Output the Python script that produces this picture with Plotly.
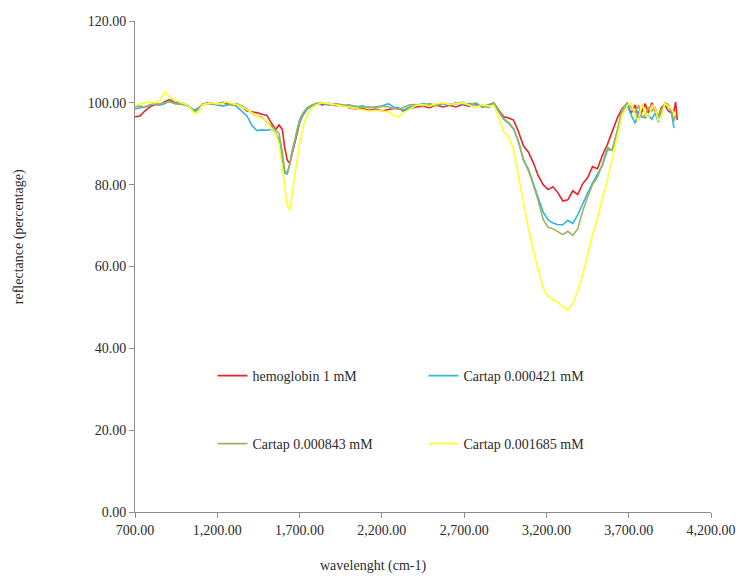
import plotly.graph_objects as go

# Wavenumber grid (cm-1)
wavenumber = [
    700, 730, 760, 790, 820, 850, 880, 910, 940, 970,
    1000, 1030, 1060, 1080, 1110, 1140, 1170, 1200, 1230, 1260,
    1290, 1320, 1350, 1380, 1410, 1440, 1470, 1500, 1530, 1555,
    1575, 1595, 1610, 1625, 1640, 1655, 1670, 1685, 1700, 1720,
    1745, 1770, 1800, 1840, 1880, 1920, 1960, 2000, 2040, 2080,
    2120, 2160, 2200, 2240, 2270, 2300, 2330, 2370, 2410, 2450,
    2490, 2530, 2570, 2610, 2650, 2690, 2730, 2770, 2810, 2850,
    2880, 2910, 2940, 2970, 3000, 3030, 3060, 3090, 3120, 3150,
    3180, 3210, 3240, 3270, 3300, 3330, 3360, 3390, 3420, 3450,
    3480, 3510, 3540, 3570, 3600, 3630, 3660, 3690, 3715, 3740,
    3760, 3780, 3800, 3820, 3840, 3860, 3880, 3900, 3920, 3940,
    3960, 3975, 3985, 3995,
]

hemoglobin_1mM = [
    96.6, 96.8, 98.0, 99.0, 99.6, 99.5, 100.3, 100.8, 100.2, 100.0,
    99.8, 99.0, 98.0, 98.5, 99.6, 100.0, 99.8, 99.5, 100.0, 99.8,
    99.5, 99.6, 99.0, 98.0, 97.8, 97.6, 97.2, 97.0, 95.0, 93.5,
    94.6, 93.5, 89.0, 86.0, 85.2, 87.5, 90.0, 92.5, 95.2, 97.0,
    98.5, 99.2, 99.8, 99.5, 99.9, 99.3, 99.5, 98.8, 98.5, 98.6,
    98.2, 98.5, 98.0, 98.4, 98.6, 98.8, 98.0, 98.6, 99.0, 99.2,
    98.8, 99.5, 99.0, 99.4, 99.0, 99.6, 99.2, 99.8, 99.0, 99.4,
    100.0, 98.2, 96.6, 96.3, 95.8, 93.0, 89.5, 88.0, 85.4, 82.2,
    80.0, 78.8, 79.5, 78.0, 76.0, 76.3, 78.5, 77.6, 80.2, 81.7,
    84.4, 83.9, 87.2, 89.8, 93.2, 96.2, 98.6, 99.8, 97.5, 99.5,
    96.0, 98.0, 99.8, 97.5, 100.0, 98.0, 96.5, 99.0, 99.5, 98.0,
    97.5, 98.0, 100.2, 95.8,
]

cartap_0000421 = [
    98.5, 98.8, 99.0, 99.3, 99.8, 99.5, 99.8, 100.5, 99.8, 99.8,
    99.5, 99.0, 98.2, 98.6, 99.5, 99.8, 99.9, 99.6, 99.2, 99.5,
    99.8, 99.0, 98.0, 96.8, 94.5, 93.2, 93.4, 93.3, 93.5, 92.5,
    91.0, 86.5, 82.8, 82.6, 85.0, 88.2, 90.5, 93.0, 95.3, 97.0,
    98.4, 99.2, 99.8, 99.8, 99.4, 99.7, 99.2, 99.5, 99.0, 99.3,
    98.8, 99.0, 99.2, 99.8, 99.0, 98.6, 98.2, 99.0, 99.4, 99.8,
    99.5, 99.3, 99.8, 99.5, 100.0, 99.6, 99.8, 99.5, 99.0, 99.6,
    99.8, 97.8, 96.0, 95.0, 93.6, 90.5, 86.2, 83.8, 80.3, 76.6,
    73.3, 71.4, 70.6, 70.2, 70.2, 71.3, 70.5, 72.6, 75.4, 77.9,
    80.4, 82.7, 84.7, 88.4, 88.6, 93.0, 97.8, 99.6, 97.0, 95.0,
    98.0, 96.5, 96.3, 97.0, 96.0, 97.5, 95.3, 98.0, 99.8, 99.5,
    97.5, 93.8, None, None,
]

cartap_0000843 = [
    99.0, 99.2, 99.0, 99.5, 99.8, 99.7, 100.0, 100.2, 99.9, 99.6,
    99.8, 99.2, 97.8, 98.2, 99.7, 99.8, 99.6, 99.8, 100.2, 100.0,
    99.6, 99.8, 99.2, 98.5, 97.5, 96.8, 96.5, 95.5, 94.3, 93.2,
    92.6, 88.0, 83.5, 82.8, 84.8, 88.0, 91.0, 93.5, 95.8, 97.5,
    98.8, 99.4, 99.8, 100.0, 99.6, 99.8, 99.5, 99.3, 99.2, 98.8,
    99.0, 98.8, 99.2, 99.0, 98.6, 98.4, 98.8, 99.5, 99.6, 99.2,
    99.8, 99.4, 100.0, 99.6, 99.7, 100.2, 99.4, 100.0, 99.2, 98.8,
    100.0, 97.8, 96.2, 95.2, 93.8, 90.6, 86.0, 83.5, 80.0, 76.2,
    71.5, 69.6, 69.2, 68.6, 67.8, 68.6, 67.6, 69.2, 73.5, 77.0,
    80.0, 81.8, 85.0, 89.2, 88.4, 93.0, 98.4, 100.0, 99.0, 97.5,
    99.5, 96.5, 97.0, 98.8, 98.0, 99.0, 96.2, 98.5, 100.0, 99.6,
    98.0, 95.5, 97.0, None,
]

cartap_0001685 = [
    99.3, 99.8, 100.0, 100.2, 100.0, 100.5, 102.6, 101.5, 100.5, 100.2,
    99.8, 99.0, 97.5, 97.6, 99.5, 99.8, 100.0, 99.7, 99.8, 100.3,
    99.8, 99.6, 99.0, 98.2, 97.6, 96.8, 96.2, 95.6, 93.5, 92.4,
    90.0, 84.0, 78.5, 75.0, 73.8, 77.5, 82.0, 86.0, 90.0, 94.0,
    97.0, 98.6, 99.5, 100.0, 99.8, 99.5, 99.2, 99.0, 98.6, 98.4,
    98.0, 98.2, 98.0, 97.8, 97.0, 96.5, 97.6, 98.6, 99.4, 99.6,
    99.2, 99.8, 100.0, 99.6, 99.8, 100.0, 99.5, 98.8, 99.6, 99.2,
    99.4, 96.5, 92.9, 91.8, 88.5, 82.0, 75.5, 69.4, 63.8, 59.0,
    54.7, 52.8, 51.8, 51.2, 50.0, 49.5, 51.0, 54.0, 58.0, 62.7,
    67.8, 71.6, 76.8, 81.0, 86.4, 92.0, 97.0, 99.3, 100.0, 96.5,
    95.8, 99.8, 97.5, 96.2, 99.5, 98.6, 95.6, 97.0, 99.8, 99.2,
    98.5, 97.5, 97.0, None,
]

series_names = ["hemoglobin 1 mM", "Cartap 0.000421 mM",
                "Cartap 0.000843 mM", "Cartap 0.001685 mM"]
series_values = [hemoglobin_1mM, cartap_0000421, cartap_0000843, cartap_0001685]
series_colors = ["#E8232B", "#2FB5E6", "#9BB45E", "#FFFF2E"]
legend_ids = ["legend", "legend2", "legend3", "legend4"]

y_ticks = [0, 20, 40, 60, 80, 100, 120]
x_ticks = [700, 1200, 1700, 2200, 2700, 3200, 3700, 4200]

FONT = "Liberation Serif, Times New Roman, serif"
TEXT = "#2b2b2b"
AXIS = "#8c8c8c"

fig = go.Figure()
for name, vals, col, leg in zip(series_names, series_values, series_colors, legend_ids):
    fig.add_trace(go.Scatter(
        x=wavenumber, y=vals, name=name, mode="lines",
        line=dict(color=col, width=1.6), connectgaps=False,
        legend=leg,
    ))

# plot area spans x 135..722 px, y 21..512 px
W, H = 748, 576
ML, MR, MT, MB = 135, 26, 21, 64
pw, ph = W - ML - MR, H - MT - MB

def px_x(p):
    return (p - ML) / pw

def px_y(p):
    return (H - MB - p) / ph

legend_style = dict(font=dict(family=FONT, size=14, color=TEXT),
                    bgcolor="rgba(0,0,0,0)", xanchor="left", yanchor="middle",
                    itemwidth=30, tracegroupgap=0)

fig.update_layout(
    width=W, height=H,
    margin=dict(l=ML, r=MR, t=MT, b=MB),
    paper_bgcolor="white", plot_bgcolor="white",
    font=dict(family=FONT, size=14, color=TEXT),
    showlegend=True,
    legend=dict(x=px_x(214), y=px_y(376), **legend_style),
    legend2=dict(x=px_x(429), y=px_y(376), **legend_style),
    legend3=dict(x=px_x(214), y=px_y(444), **legend_style),
    legend4=dict(x=px_x(429), y=px_y(444), **legend_style),
    xaxis=dict(
        range=[700, 4200], tickvals=x_ticks,
        ticktext=[f"{v:,.2f}" for v in x_ticks],
        showgrid=False, zeroline=False,
        showline=True, linecolor=AXIS, linewidth=1,
        ticks="outside", ticklen=5, tickcolor=AXIS,
        tickfont=dict(family=FONT, size=14, color=TEXT),
    ),
    yaxis=dict(
        range=[0, 120], tickvals=y_ticks,
        ticktext=[f"{v:.2f}" for v in y_ticks],
        showgrid=False, zeroline=False,
        showline=True, linecolor=AXIS, linewidth=1,
        ticks="outside", ticklen=5, tickcolor=AXIS,
        tickfont=dict(family=FONT, size=14, color=TEXT),
    ),
    annotations=[
        dict(text="wavelenght (cm-1)", xref="paper", yref="paper",
             x=px_x(378), y=px_y(566), xanchor="center", yanchor="middle",
             showarrow=False, font=dict(family=FONT, size=14, color=TEXT)),
        dict(text="reflectance (percentage)", xref="paper", yref="paper",
             x=px_x(17), y=px_y(237), xanchor="center", yanchor="middle",
             textangle=-90, showarrow=False,
             font=dict(family=FONT, size=14, color=TEXT)),
    ],
)

fig.write_html("out.html")
